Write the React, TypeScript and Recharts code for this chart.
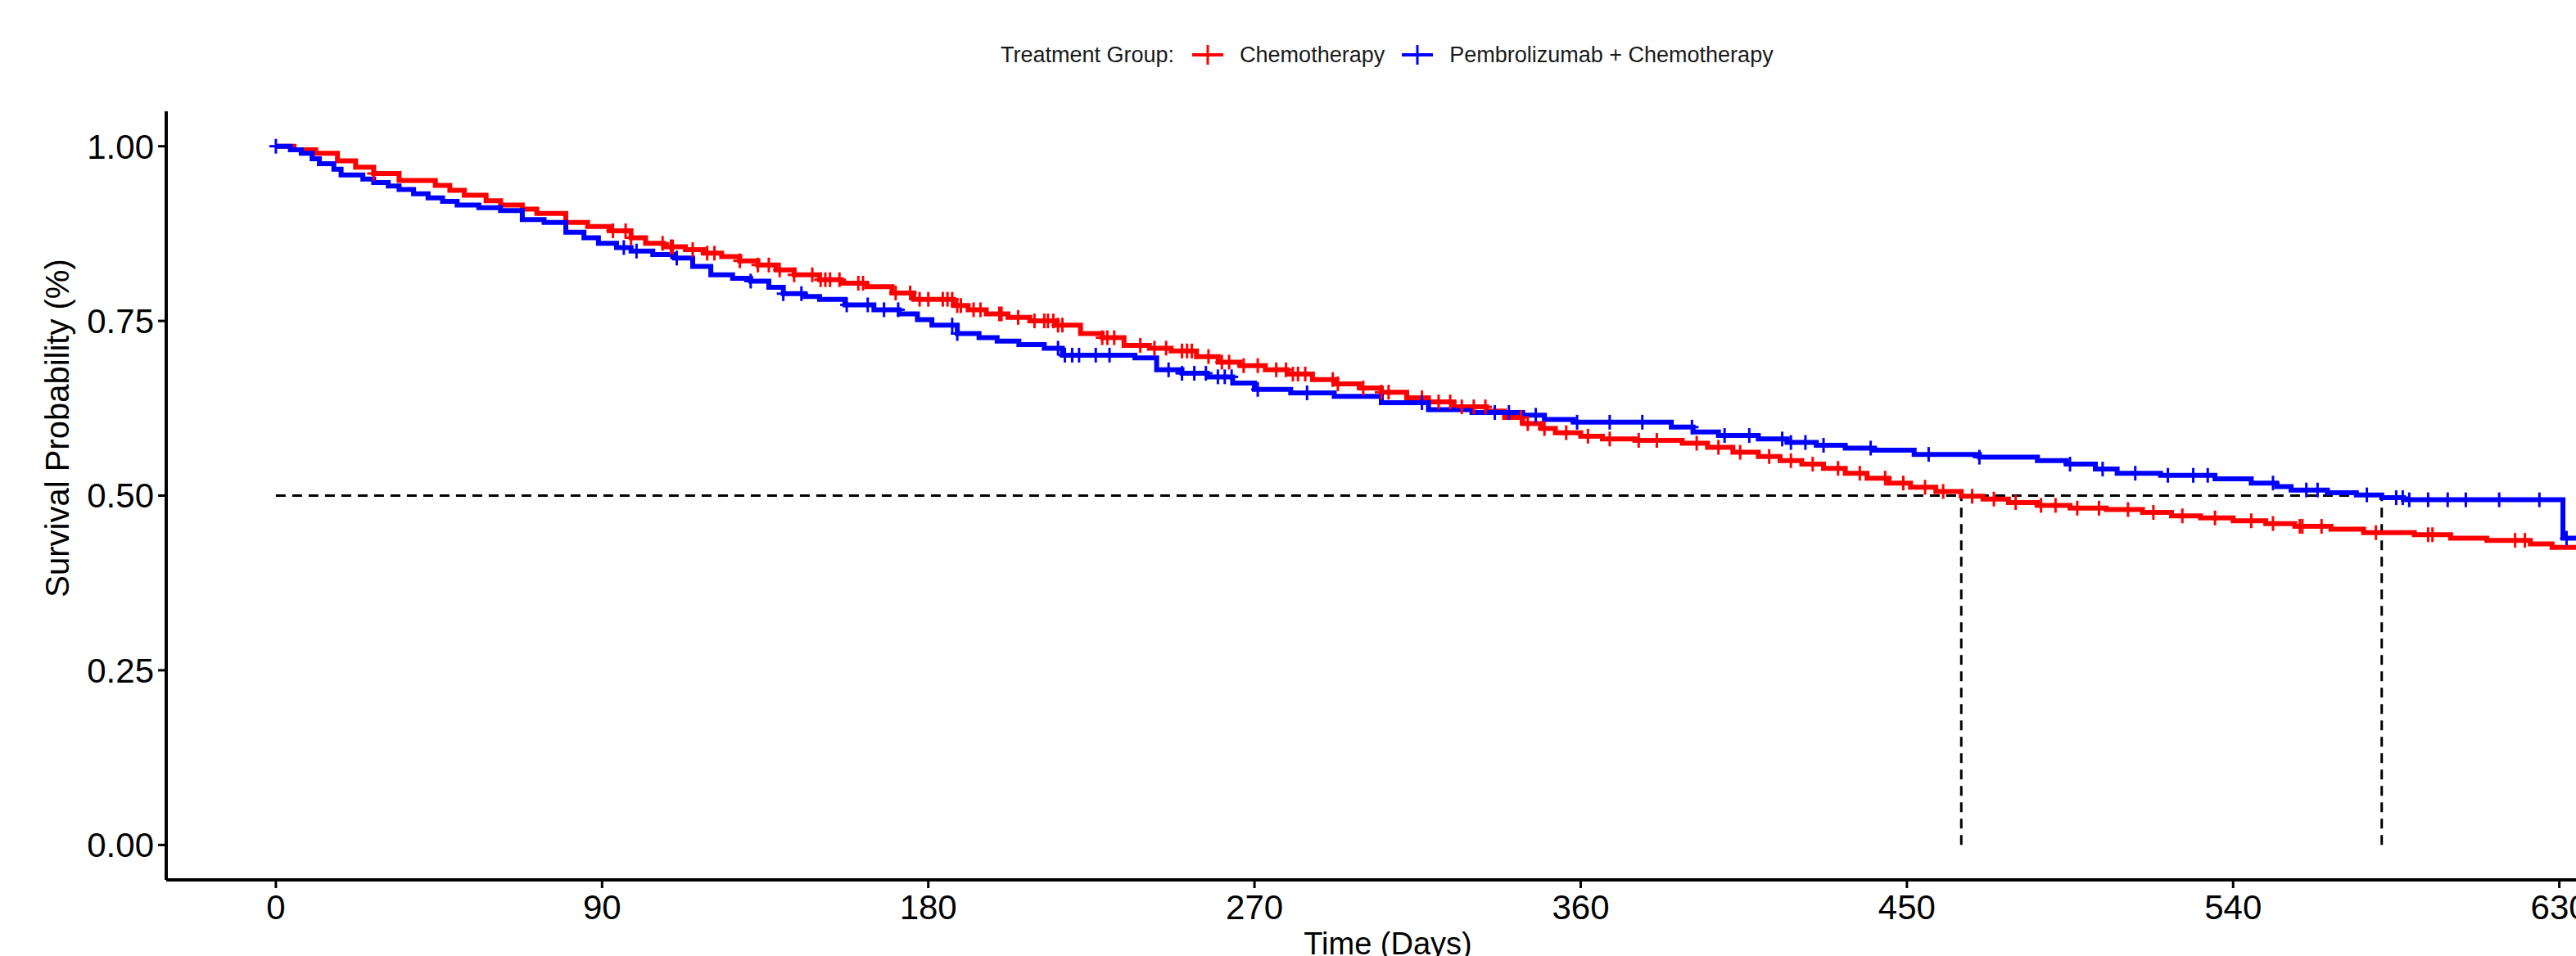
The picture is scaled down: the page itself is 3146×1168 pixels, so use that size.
import React from 'react';
import { ComposedChart, Line, Scatter, XAxis, YAxis, ReferenceLine } from 'recharts';

const W = 3146;
const H = 1168;
const FONT = '"Liberation Sans", Arial, Helvetica, sans-serif';

const groupNames = ['Chemotherapy', 'Pembrolizumab + Chemotherapy'];
const groupColors = ['#FF0000', '#0000FF'];
const legendTitle = 'Treatment Group:';
const xTitle = 'Time (Days)';
const yTitle = 'Survival Probability (%)';

const xTicks = [0, 90, 180, 270, 360, 450, 540, 630];
const yTicks = [0, 0.25, 0.5, 0.75, 1];

// Chemotherapy: step times (days) and survival after each step
const redDays = [0,5,11,17,22,27,34,44,48,52,58,62,68,72,80,86,92,98,102,107,113,118,123,128,133,138,143,150,156,163,170,176,187,191,196,202,208,215,222,228,234,241,247,254,260,266,273,279,286,292,299,305,312,318,325,334,339,344,349,353,360,366,375,388,395,402,409,415,421,427,433,439,445,451,458,465,471,478,486,495,505,515,523,531,540,549,557,567,576,590,600,610,622,628,635];
const redSurv = [1.000,0.995,0.990,0.979,0.970,0.961,0.951,0.944,0.937,0.930,0.922,0.916,0.910,0.904,0.891,0.885,0.879,0.869,0.861,0.856,0.852,0.847,0.842,0.836,0.830,0.823,0.816,0.809,0.804,0.799,0.790,0.781,0.772,0.766,0.760,0.755,0.750,0.744,0.732,0.726,0.715,0.711,0.707,0.699,0.691,0.686,0.680,0.674,0.666,0.660,0.654,0.648,0.640,0.634,0.627,0.621,0.612,0.603,0.596,0.590,0.585,0.581,0.579,0.575,0.569,0.562,0.556,0.550,0.545,0.539,0.532,0.525,0.518,0.512,0.506,0.499,0.495,0.490,0.486,0.482,0.480,0.476,0.471,0.468,0.464,0.460,0.456,0.452,0.447,0.444,0.439,0.436,0.431,0.426,0.426];

// Pembrolizumab + Chemotherapy
const blueDays = [0,4,7,10,12,16,18,24,27,31,34,38,42,46,50,56,62,68,74,80,85,89,94,98,104,110,115,120,126,131,136,140,146,150,157,165,172,177,181,188,194,199,205,212,217,237,243,250,257,264,270,280,292,305,318,330,344,350,358,385,391,398,409,417,425,433,441,452,470,486,494,502,508,520,535,545,552,556,566,574,581,587,631,635];
const blueSurv = [1.000,0.995,0.990,0.982,0.975,0.967,0.959,0.953,0.948,0.943,0.938,0.932,0.926,0.921,0.916,0.912,0.908,0.895,0.891,0.877,0.869,0.861,0.855,0.850,0.845,0.840,0.828,0.816,0.811,0.807,0.798,0.789,0.785,0.781,0.773,0.766,0.760,0.752,0.744,0.732,0.726,0.721,0.716,0.711,0.701,0.697,0.680,0.675,0.670,0.661,0.652,0.647,0.642,0.633,0.623,0.619,0.615,0.609,0.605,0.598,0.591,0.586,0.581,0.576,0.572,0.568,0.565,0.559,0.555,0.550,0.545,0.538,0.532,0.529,0.524,0.518,0.513,0.508,0.504,0.501,0.497,0.494,0.439,0.439];

// censoring times
const redCensorDays = [27,93,96.5,98,106.7,109,109.5,115,119,121,128,133,136,139,143,148,150.3,151.6,152.9,155.5,160.7,162,171,175,177.6,180,184,185.3,186.6,188,189,192.5,194.4,199.6,200.2,204.8,209.3,212,213,214.5,215.8,217,228,229.4,231.3,238.5,242.4,245.6,250,251.4,252.7,257.3,261,263,267,270.9,276,278.7,280.6,282,284,291.6,293,300,305,307,316.2,320.8,324,327.2,330.5,333.7,343.5,345.4,350,356,362,368,376,381,392,398,404,412,418,424,431,437,444,449,455,460,468,474,480,487,491,497,503,511,518,526,535,545,551,558.4,559.1,564.4,579.4,593.8,595,617.8,620.5];
const blueCensorDays = [0,96,99.5,110.6,131,140,145,157.5,163.3,167.8,171.7,186.6,188,215.8,217.7,219.7,221.6,226.2,230,246.3,250,253.4,256.6,259.9,261.8,263.7,270.9,284.5,316.2,336.3,340.2,347.6,359,368,377,390.7,399.7,406.5,415.6,418,422,427,440,456,470,495,504,513,522,529,533,551,560.2,563.3,576.9,585,586.8,588.6,593.8,599.2,604.2,613.4,624.5,632];

function survAt(days: number[], surv: number[], t: number) {
  let v = surv[0];
  for (let i = 0; i < days.length; i++) {
    if (days[i] <= t) v = surv[i];
    else break;
  }
  return v;
}
function median(days: number[], surv: number[]) {
  for (let i = 0; i < days.length; i++) if (surv[i] <= 0.5) return days[i];
  return days[days.length - 1];
}

const redData = redDays.map((t, i) => ({ t, s: redSurv[i] }));
const blueData = blueDays.map((t, i) => ({ t, s: blueSurv[i] }));
const redCensor = redCensorDays.map((t) => ({ t, s: survAt(redDays, redSurv, t) }));
const blueCensor = blueCensorDays.map((t) => ({ t, s: survAt(blueDays, blueSurv, t) }));
const redMedian = median(redDays, redSurv);
const blueMedian = median(blueDays, blueSurv);
const maxMedian = Math.max(redMedian, blueMedian);

const makeCross = (color: string) => (props: any) => {
  const { cx, cy } = props;
  if (cx == null || cy == null) return <g />;
  return (
    <g>
      <line x1={cx - 8} x2={cx + 8} y1={cy} y2={cy} stroke={color} strokeWidth={3} />
      <line x1={cx} x2={cx} y1={cy - 9} y2={cy + 9} stroke={color} strokeWidth={3} />
    </g>
  );
};

function LegendKey({ color }: { color: string }) {
  return (
    <svg width={38} height={26} style={{ display: 'block' }}>
      <line x1={0} x2={38} y1={13} y2={13} stroke={color} strokeWidth={4} />
      <line x1={19} x2={19} y1={1} y2={25} stroke={color} strokeWidth={3} />
    </svg>
  );
}

export default function App() {
  const dash = { stroke: '#000', strokeWidth: 3, strokeDasharray: '12 8' };
  return (
    <div style={{ position: 'absolute', left: 0, top: 0, width: W, height: H, background: '#fff', overflow: 'hidden', fontFamily: FONT }}>
      <div style={{ position: 'absolute', left: 1222, top: 50, height: 34, display: 'flex', alignItems: 'center', fontSize: 27, color: '#1a1a1a', whiteSpace: 'nowrap' }}>
        <span style={{ marginRight: 22 }}>{legendTitle}</span>
        {groupNames.map((n, i) => (
          <React.Fragment key={n}>
            <span style={{ marginRight: 20 }}><LegendKey color={groupColors[i]} /></span>
            <span style={{ marginRight: 21 }}>{n}</span>
          </React.Fragment>
        ))}
      </div>
      <ComposedChart width={W} height={H} margin={{ top: 136, right: 0, bottom: 0, left: 0 }} style={{ position: 'absolute', left: 0, top: 0 }}>
        <XAxis
          type="number"
          dataKey="t"
          domain={[-30.25, 634.6]}
          allowDataOverflow
          ticks={xTicks}
          height={93}
          tickSize={10}
          tickMargin={8}
          axisLine={{ stroke: '#000', strokeWidth: 4 }}
          tickLine={{ stroke: '#000', strokeWidth: 3 }}
          tick={{ fontSize: 42, fill: '#000', fontFamily: FONT }}
          interval={0}
        />
        <YAxis
          type="number"
          domain={[-0.05, 1.05]}
          allowDataOverflow
          ticks={yTicks}
          width={203}
          tickSize={10}
          tickMargin={5}
          axisLine={{ stroke: '#000', strokeWidth: 4 }}
          tickLine={{ stroke: '#000', strokeWidth: 3 }}
          tick={{ fontSize: 42, fill: '#000', fontFamily: FONT }}
          tickFormatter={(v: number) => v.toFixed(2)}
          interval={0}
        />
        <ReferenceLine segment={[{ x: 0, y: 0.5 }, { x: maxMedian, y: 0.5 }]} {...dash} />
        <ReferenceLine segment={[{ x: redMedian, y: 0 }, { x: redMedian, y: 0.5 }]} {...dash} />
        <ReferenceLine segment={[{ x: blueMedian, y: 0 }, { x: blueMedian, y: 0.5 }]} {...dash} />
        <Line data={redData} dataKey="s" type="stepAfter" stroke={groupColors[0]} strokeWidth={6} dot={false} activeDot={false} isAnimationActive={false} name={groupNames[0]} />
        <Line data={blueData} dataKey="s" type="stepAfter" stroke={groupColors[1]} strokeWidth={6} dot={false} activeDot={false} isAnimationActive={false} name={groupNames[1]} />
        <Scatter data={redCensor} dataKey="s" shape={makeCross(groupColors[0])} isAnimationActive={false} />
        <Scatter data={blueCensor} dataKey="s" shape={makeCross(groupColors[1])} isAnimationActive={false} />
      </ComposedChart>
      <svg width={W} height={H} style={{ position: 'absolute', left: 0, top: 0, pointerEvents: 'none' }}>
        <text x={1695} y={1166} textAnchor="middle" fontSize={38} fill="#000" fontFamily={FONT}>{xTitle}</text>
        <text x={0} y={0} transform={`translate(84, 523) rotate(-90)`} textAnchor="middle" fontSize={40} fill="#000" fontFamily={FONT}>{yTitle}</text>
      </svg>
    </div>
  );
}
